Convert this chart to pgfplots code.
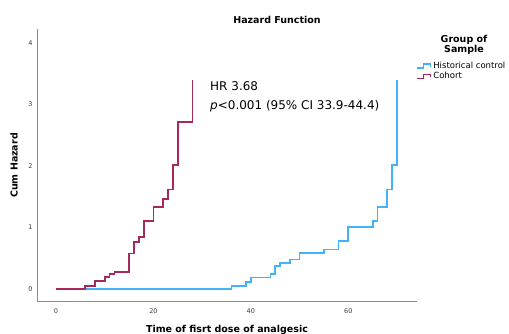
\documentclass[border=0pt]{standalone}
\usepackage{pgfplots}
\pgfplotsset{compat=1.18}
\usepackage{fontspec}
\setmainfont{DejaVu Sans}
\definecolor{hcblue}{RGB}{66,178,250}
\definecolor{cohred}{RGB}{168,40,92}
\definecolor{axgray}{RGB}{140,140,140}
\definecolor{tickgray}{RGB}{60,60,60}
\begin{document}
\begin{tikzpicture}
\useasboundingbox (0pt,0pt) rectangle (509pt,334pt);
\begin{axis}[
  at={(37pt,32pt)}, anchor=south west,
  scale only axis, width=380pt, height=273pt,
  xmin=-3.9, xmax=74.1, ymin=-0.21, ymax=4.23,
  axis x line*=bottom, axis y line*=left,
  axis line style={-, axgray, line width=1pt},
  xtick={0,20,40,60}, ytick={0,1,2,3,4},
  major tick length=0pt,
  tick label style={font=\fontsize{6.5}{7}\selectfont, text=tickgray},
  /pgf/number format/assume math mode=true,
  xticklabel style={yshift=-3pt},
  yticklabel style={xshift=-1pt},
  legend cell align=left,
  legend style={draw=none, fill=none, at={(axis description cs:0.997,0.887)}, anchor=north west,
    font=\fontsize{8.5}{9}\selectfont, inner sep=0pt, row sep=-1.5pt,
    /tikz/every even column/.append style={column sep=0pt}},
  legend image code/.code={\draw[#1, line width=1.3pt] (0pt,-2pt) -- (7pt,-2pt) -- (7pt,2pt) -- (14pt,2pt) -- (14pt,-0.5pt);},
]
\addplot[const plot, hcblue, line width=1.7pt, line join=miter] coordinates {
(0,0) (36,0.055) (39,0.12) (40,0.19) (44,0.24) (45,0.37) (46,0.42) (48,0.48)
(50,0.585) (55,0.645) (58,0.785) (60,1.01) (65,1.105) (66,1.33) (68,1.62) (69,2.02) (70,3.40)};
\addlegendentry{Historical control}
\addplot[const plot, cohred, line width=1.7pt, line join=miter] coordinates {
(0,0) (6,0.05) (8,0.13) (10,0.195) (11,0.24) (12,0.28) (15,0.58) (16,0.77) (17,0.85)
(18,1.105) (20,1.33) (22,1.47) (23,1.62) (24,2.02) (25,2.72) (28,3.40)};
\addlegendentry{Cohort}
\end{axis}
\node[font=\bfseries\fontsize{9.5}{11}\selectfont] at (277pt,314pt) {Hazard Function};
\node[font=\bfseries\fontsize{9.5}{11}\selectfont, rotate=90] at (14pt,168.5pt) {Cum Hazard};
\node[font=\bfseries\fontsize{9.5}{11}\selectfont, anchor=base, inner sep=0pt] at (227pt,1pt) {Time of fisrt dose of analgesic};
\node[font=\bfseries\fontsize{9.5}{10.5}\selectfont, align=center] at (464pt,289pt) {Group of\\Sample};
\node[font=\fontsize{12}{14}\selectfont, anchor=base west, inner sep=0pt] at (210pt,243.3pt) {HR 3.68};
\node[font=\fontsize{12}{14}\selectfont, anchor=base west, inner sep=0pt] at (210pt,224pt) {\textit{p}<0.001 (95\% CI 33.9-44.4)};
\end{tikzpicture}
\end{document}
